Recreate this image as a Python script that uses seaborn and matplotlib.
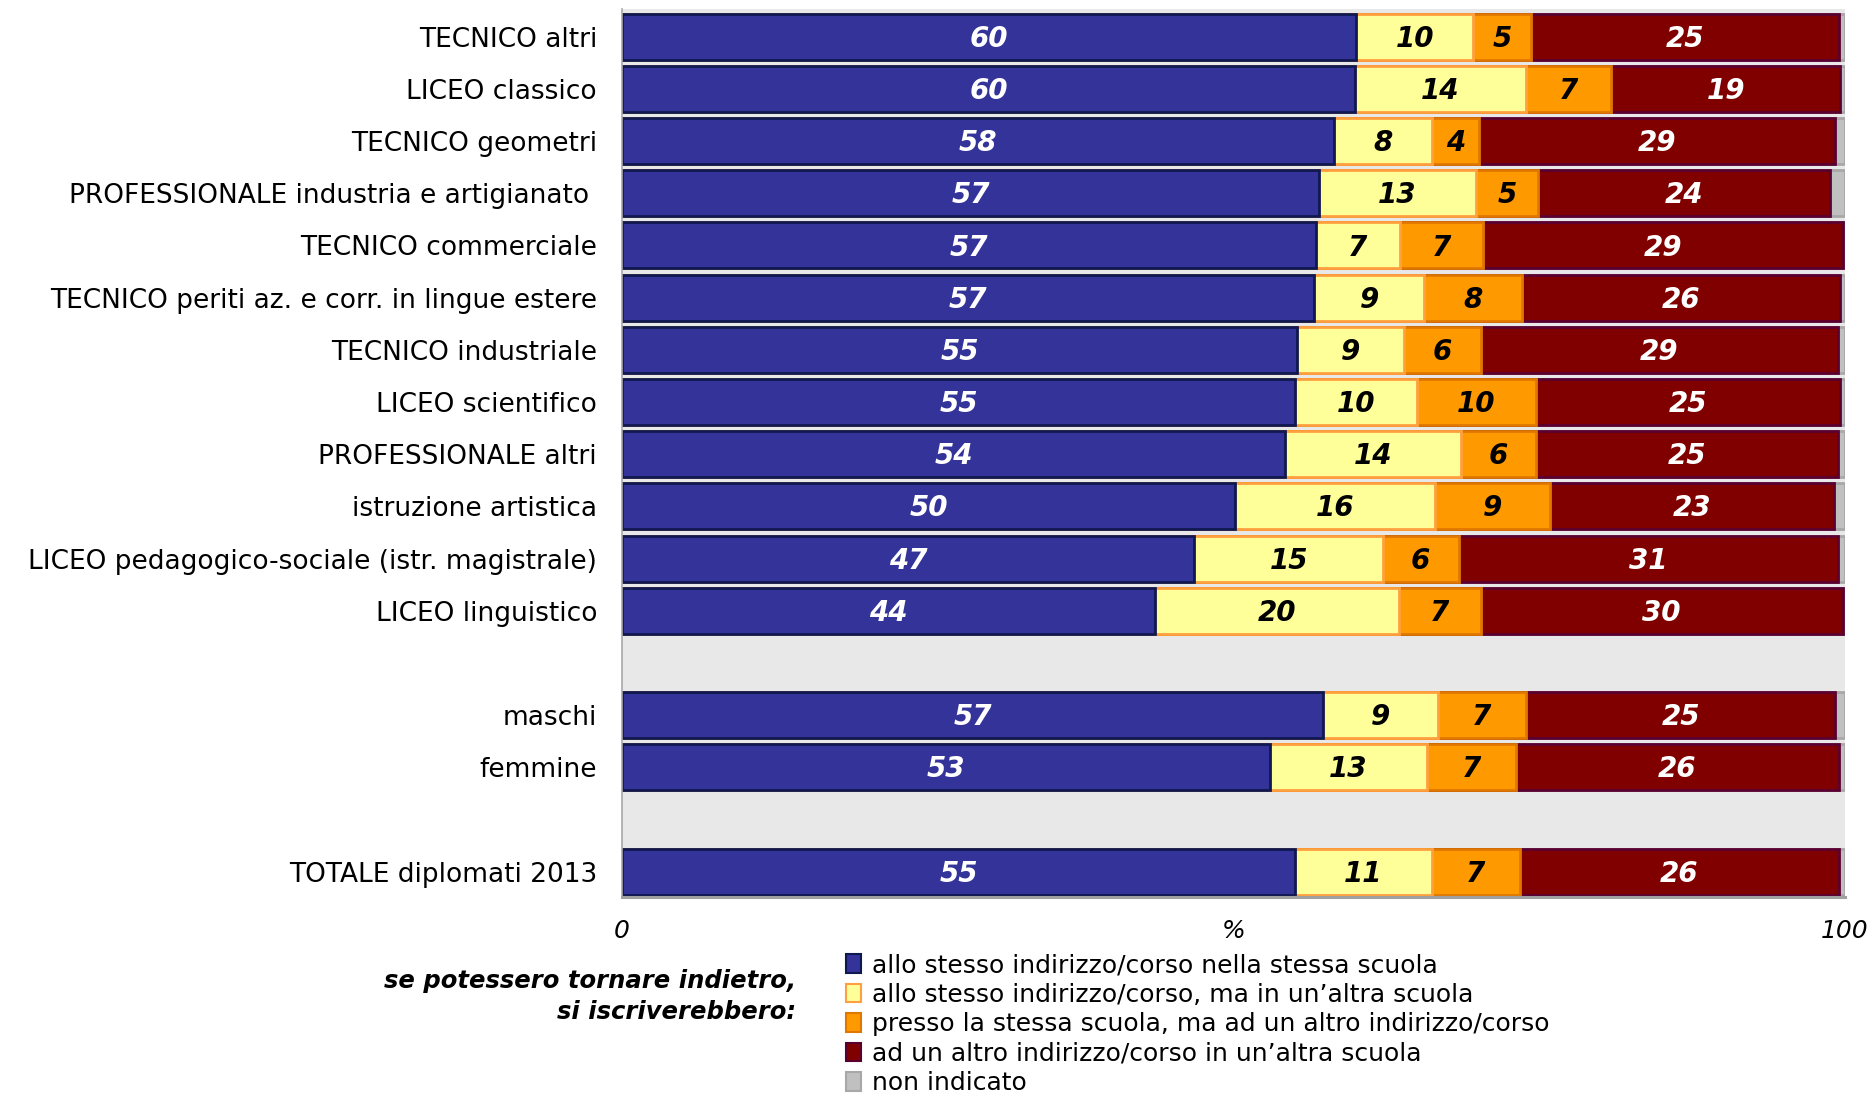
import pandas as pd
import matplotlib.pyplot as plt
import seaborn as sns
from matplotlib.patches import Patch

# -----------------------------
# 1. Data (% of graduates)
# -----------------------------
categorie = [
    "TECNICO altri",
    "LICEO classico",
    "TECNICO geometri",
    "PROFESSIONALE industria e artigianato ",
    "TECNICO commerciale",
    "TECNICO periti az. e corr. in lingue estere",
    "TECNICO industriale",
    "LICEO scientifico",
    "PROFESSIONALE altri",
    "istruzione artistica",
    "LICEO pedagogico-sociale (istr. magistrale)",
    "LICEO linguistico",
    "maschi",
    "femmine",
    "TOTALE diplomati 2013",
]
gruppi = [12, 2, 1]  # rows per block, blocks separated by an empty row

stesso_stessa = [60.0, 59.9, 58.2, 57.0, 56.7, 56.6, 55.2, 55.0, 54.2, 50.1, 46.8, 43.6, 57.3, 53.0, 55.0]
stesso_altra = [9.6, 14.0, 8.0, 12.8, 6.9, 9.0, 8.7, 10.0, 14.4, 16.4, 15.4, 19.9, 9.4, 12.8, 11.2]
stessa_altro = [4.7, 7.0, 3.9, 5.1, 6.8, 8.0, 6.3, 9.7, 6.1, 9.4, 6.2, 6.7, 7.2, 7.3, 7.2]
altro_altra = [25.2, 18.7, 29.1, 23.9, 29.4, 26.0, 29.2, 24.9, 24.7, 23.2, 31.0, 29.6, 25.3, 26.4, 26.1]
non_indicato = [0.5, 0.4, 0.8, 1.2, 0.2, 0.4, 0.6, 0.4, 0.6, 0.9, 0.6, 0.2, 0.8, 0.5, 0.5]

serie = [
    ("allo stesso indirizzo/corso nella stessa scuola", stesso_stessa),
    ("allo stesso indirizzo/corso, ma in un\u2019altra scuola", stesso_altra),
    ("presso la stessa scuola, ma ad un altro indirizzo/corso", stessa_altro),
    ("ad un altro indirizzo/corso in un\u2019altra scuola", altro_altra),
    ("non indicato", non_indicato),
]
colori = ["#333399", "#FFFF99", "#FF9900", "#800000", "#C0C0C0"]
bordi = ["#101850", "#FFA040", "#E07800", "#5A0030", "#A8A8A8"]
col_testo = ["white", "black", "black", "white", None]

# -----------------------------
# 2. Basic setup
# -----------------------------
sns.set_theme(style="white")
plt.rcParams["font.family"] = ["DejaVu Sans"]
plt.rcParams["text.color"] = "black"
plt.rcParams["xtick.color"] = "black"
plt.rcParams["ytick.color"] = "black"

# row positions with one empty row between blocks
pos = []
p = 0
for g in gruppi:
    pos += list(range(p, p + g))
    p += g + 1

df = pd.DataFrame({"categoria": categorie, "pos": pos})
cum = [0.0] * len(categorie)
for k, (nome, vals) in enumerate(serie):
    df["left_%d" % k] = cum
    cum = [c + v for c, v in zip(cum, vals)]
    df["right_%d" % k] = cum
    df["val_%d" % k] = vals

fig = plt.figure(figsize=(18.76, 10.97), dpi=100)
ax = fig.add_axes([0.3316, 0.1826, 0.9835 - 0.3316, 0.8089])
ax.set_facecolor("#E8E8E8")

# -----------------------------
# 3. Stacked bars (drawn back to front)
# -----------------------------
for k in range(len(serie) - 1, -1, -1):
    sns.barplot(
        data=df, x="right_%d" % k, y="pos", orient="y", native_scale=True,
        color=colori[k], edgecolor=bordi[k], linewidth=2.0, width=0.88,
        saturation=1, errorbar=None, ax=ax,
    )

for k in range(4):
    for _, r in df.iterrows():
        v = r["val_%d" % k]
        ax.text(r["left_%d" % k] + v / 2, r["pos"] + 0.04, f"{v:.0f}",
                ha="center", va="center", color=col_testo[k],
                fontsize=20, fontweight="bold", fontstyle="italic")

# -----------------------------
# 4. Axes
# -----------------------------
ax.set_xlim(0, 100)
ax.set_ylim(16.48, -0.525)
ax.set_yticks(pos)
ax.set_yticklabels(categorie, fontsize=19)
ax.tick_params(axis="y", length=0, pad=18)
ax.set_xticks([0, 50, 100])
ax.set_xticklabels(["0", "%", "100"], fontsize=18, fontstyle="italic")
ax.tick_params(axis="x", length=7, width=1, color="#A0A0A0", labelcolor="black",
               pad=9, direction="out")
ax.set_xlabel("")
ax.set_ylabel("")
for s in ["top", "right"]:
    ax.spines[s].set_visible(False)
ax.spines["left"].set_color("#A8A8A8")
ax.spines["left"].set_linewidth(1.2)
ax.spines["bottom"].set_color("#A0A0A0")
ax.spines["bottom"].set_linewidth(2.2)

# -----------------------------
# 5. Legend and caption
# -----------------------------
handles = [Patch(facecolor=colori[k], edgecolor=bordi[k], linewidth=1.5, label=serie[k][0])
           for k in range(len(serie))]
fig.legend(handles=handles, loc="upper left", bbox_to_anchor=(0.451, 0.131),
           frameon=False, fontsize=18, handlelength=0.6, handleheight=0.75,
           handletextpad=0.45, labelspacing=0.22, borderpad=0, borderaxespad=0)
fig.text(0.4243, 0.0915, "se potessero tornare indietro,\nsi iscriverebbero:",
         ha="right", va="center", fontsize=17.5, fontweight="bold", fontstyle="italic",
         linespacing=1.4)

plt.savefig("out.png", dpi=100)
